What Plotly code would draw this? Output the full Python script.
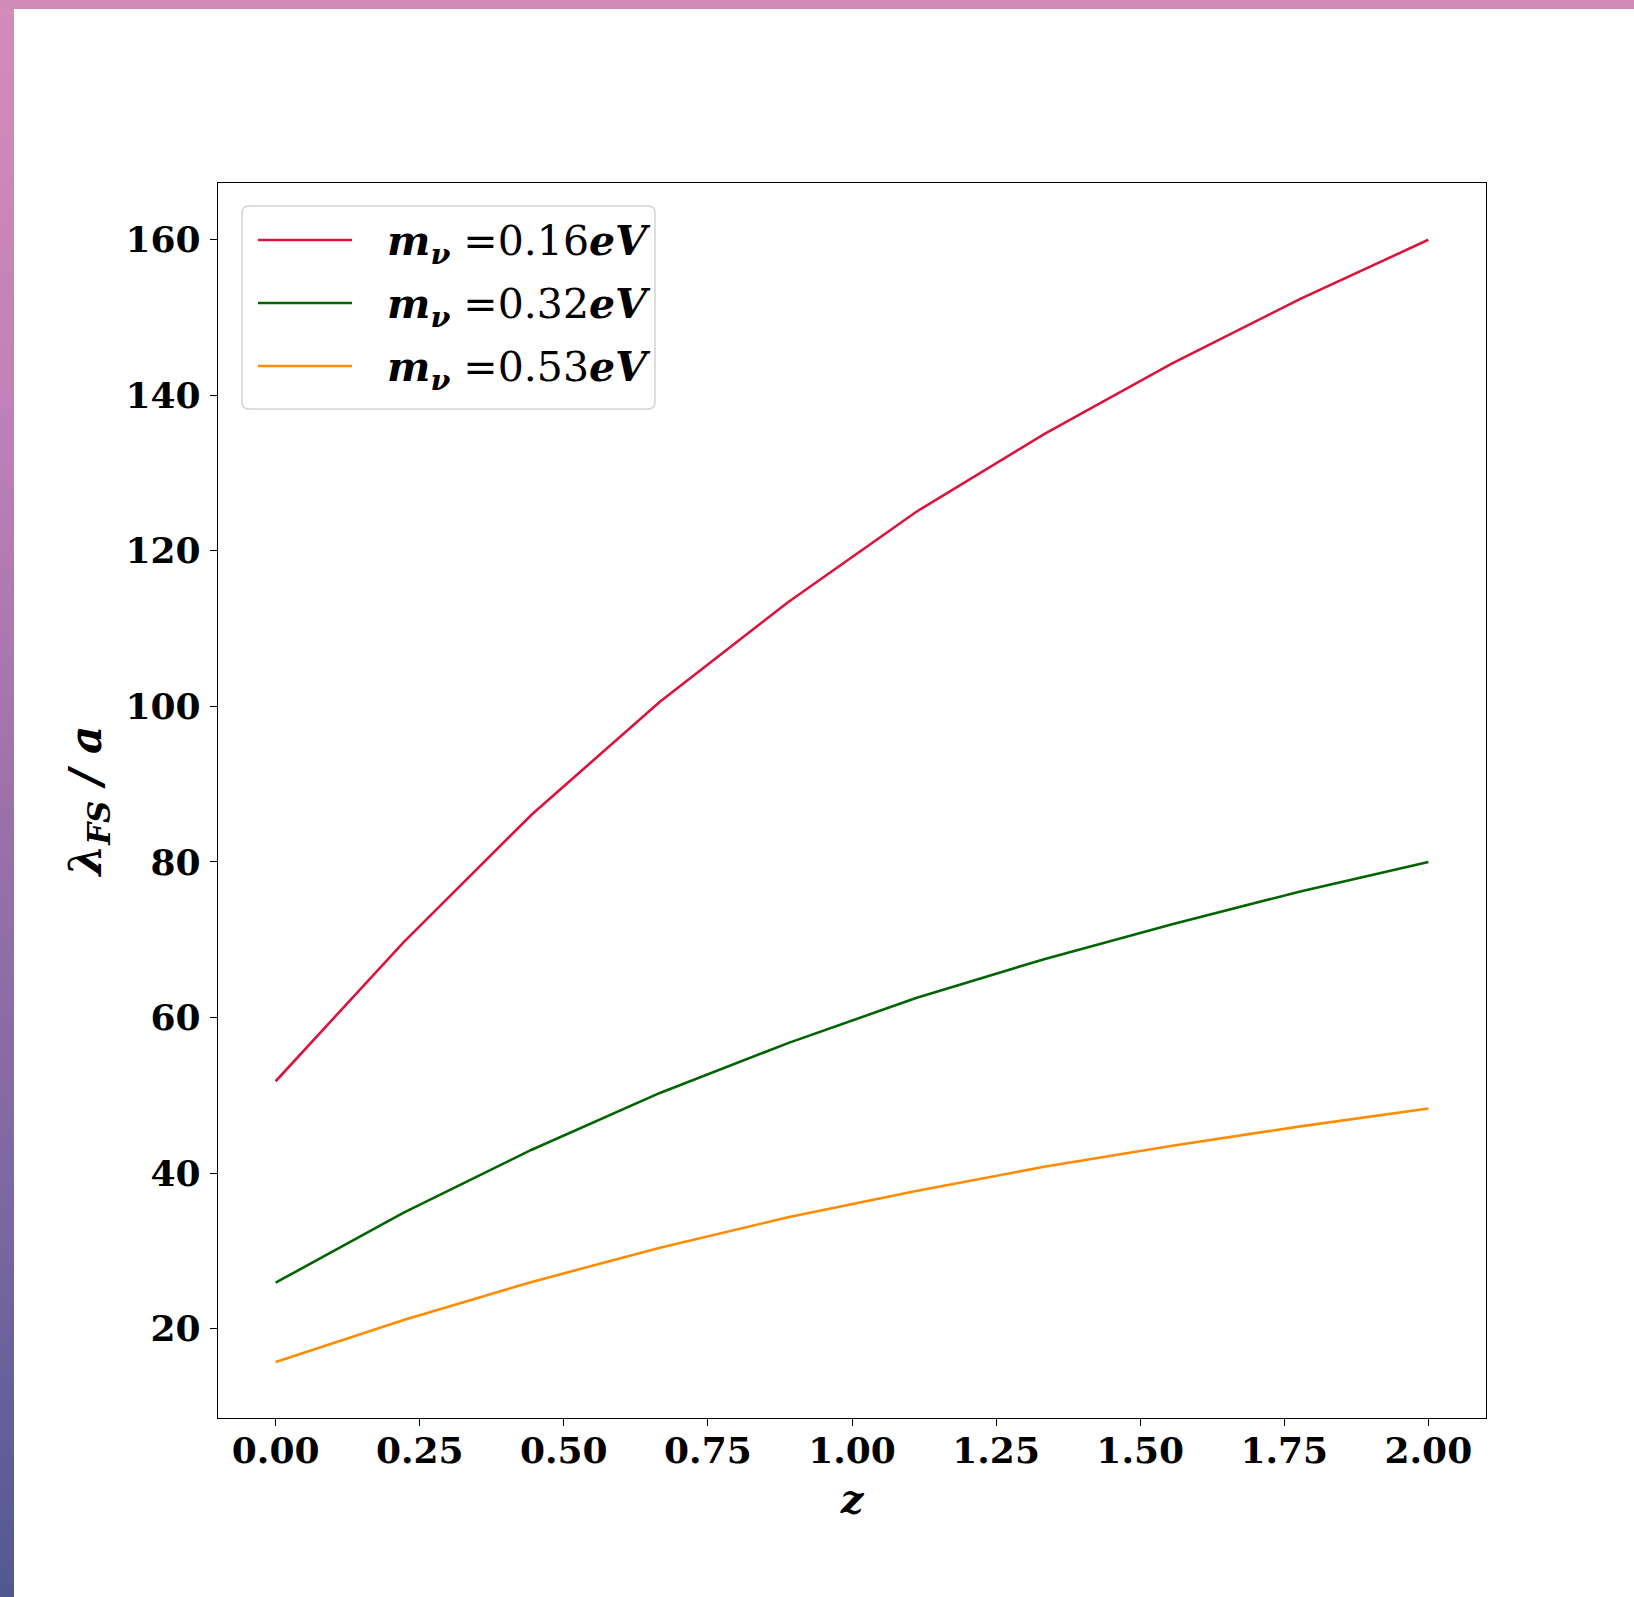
import plotly.graph_objects as go

# Redshift samples
z = [0.0, 0.2222, 0.4444, 0.6667, 0.8889, 1.1111, 1.3333, 1.5556, 1.7778, 2.0]

# Free-streaming length over scale factor for each neutrino mass
lam_016 = [51.8, 69.7, 86.1, 100.6, 113.4, 125.0, 135.0, 144.1, 152.4, 160.0]
lam_032 = [25.9, 34.9, 43.0, 50.3, 56.7, 62.5, 67.5, 72.0, 76.2, 80.0]
lam_053 = [15.7, 21.1, 26.0, 30.4, 34.3, 37.7, 40.8, 43.5, 46.0, 48.3]

series_names = [
    "<b><i>m</i></b><sub><b><i>ν</i></b></sub> =0.16<b><i>eV</i></b>",
    "<b><i>m</i></b><sub><b><i>ν</i></b></sub> =0.32<b><i>eV</i></b>",
    "<b><i>m</i></b><sub><b><i>ν</i></b></sub> =0.53<b><i>eV</i></b>",
]
series_colors = ["#DC143C", "#006400", "#FF8C00"]

x_ticks = [0.0, 0.25, 0.5, 0.75, 1.0, 1.25, 1.5, 1.75, 2.0]
y_ticks = [20, 40, 60, 80, 100, 120, 140, 160]

W, H = 1634, 1597
ML, MR, MT, MB = 218, 148, 183, 179
PW, PH = W - ML - MR, H - MT - MB

FONT = "DejaVu Serif"

fig = go.Figure()
for ys, name, col in zip([lam_016, lam_032, lam_053], series_names, series_colors):
    fig.add_trace(go.Scatter(x=z, y=ys, mode="lines", name=name, showlegend=False,
                             line=dict(color=col, width=2.6)))


def px_x(p):
    return (p - ML) / PW


def px_y(p):
    return (H - MB - p) / PH


def hex_to_rgb(h):
    h = h.lstrip("#")
    return [int(h[i:i + 2], 16) for i in (0, 2, 4)]


# Decorative frame: vertical pink-to-indigo gradient along the left edge, pink band on top
stops = [(0, "#D48CB9"), (400, "#C082B8"), (800, "#9C72A8"), (1200, "#7C68A2"), (1597, "#52598F")]


def grad_color(py):
    for (p0, c0), (p1, c1) in zip(stops[:-1], stops[1:]):
        if p0 <= py <= p1:
            t = (py - p0) / (p1 - p0)
            a, b = hex_to_rgb(c0), hex_to_rgb(c1)
            return "rgb(%d,%d,%d)" % tuple(round(a[i] + (b[i] - a[i]) * t) for i in range(3))
    return stops[-1][1]


shapes = []
step = 6
for py in range(0, H, step):
    shapes.append(dict(type="rect", xref="paper", yref="paper", layer="below",
                       x0=px_x(0), x1=px_x(14), y0=px_y(py + step + 0.5), y1=px_y(py),
                       fillcolor=grad_color(py + step / 2), line=dict(width=0)))
shapes.append(dict(type="rect", xref="paper", yref="paper", layer="below",
                   x0=px_x(0), x1=px_x(W), y0=px_y(9), y1=px_y(0),
                   fillcolor="#D28AB8", line=dict(width=0)))

# Legend panel: rounded box, line samples and labels (pixel layout converted to paper)
bx0, by0, bx1, by1, rad = 242, 206, 655, 409, 7


def rounded_box(x0, y0, x1, y1, r):
    pts = [
        ("M", [(x0 + r, y0)]), ("L", [(x1 - r, y0)]), ("Q", [(x1, y0), (x1, y0 + r)]),
        ("L", [(x1, y1 - r)]), ("Q", [(x1, y1), (x1 - r, y1)]),
        ("L", [(x0 + r, y1)]), ("Q", [(x0, y1), (x0, y1 - r)]),
        ("L", [(x0, y0 + r)]), ("Q", [(x0, y0), (x0 + r, y0)]),
    ]
    out = []
    for cmd, coords in pts:
        out.append(cmd + " ".join("%.6f,%.6f" % (px_x(a), px_y(b)) for a, b in coords))
    return " ".join(out) + " Z"


shapes.append(dict(type="path", xref="paper", yref="paper", layer="above",
                   path=rounded_box(bx0, by0, bx1, by1, rad),
                   fillcolor="rgba(255,255,255,0.85)", line=dict(color="#D3D3D3", width=1.5)))

legend_rows = [240, 303, 366]
annotations = []
for row_y, name, col in zip(legend_rows, series_names, series_colors):
    shapes.append(dict(type="line", xref="paper", yref="paper", layer="above",
                       x0=px_x(258), x1=px_x(352), y0=px_y(row_y), y1=px_y(row_y),
                       line=dict(color=col, width=2.6)))
    annotations.append(dict(xref="paper", yref="paper", x=px_x(385), y=px_y(row_y + 4),
                            xanchor="left", yanchor="middle", showarrow=False, text=name,
                            font=dict(family=FONT, size=41, color="black")))

axis_common = dict(
    showline=True, linecolor="black", linewidth=1.4, mirror=True,
    ticks="outside", ticklen=7, tickwidth=1.4, tickcolor="black",
    showgrid=False, zeroline=False,
    tickfont=dict(family=FONT, size=36, color="black", weight="bold"),
)

fig.update_layout(
    width=W, height=H,
    margin=dict(l=ML, r=MR, t=MT, b=MB),
    paper_bgcolor="white", plot_bgcolor="white",
    shapes=shapes,
    annotations=annotations,
    showlegend=False,
    xaxis=dict(
        range=[-0.1, 2.1], tickvals=x_ticks,
        ticktext=["<b>%.2f</b>" % v for v in x_ticks],
        ticklabelstandoff=-6,
        title=dict(text="<b><i>z</i></b>", standoff=14,
                   font=dict(family=FONT, size=40, color="black")),
        **axis_common,
    ),
    yaxis=dict(
        range=[8.5, 167.3], tickvals=y_ticks,
        ticktext=["<b>%d</b>" % v for v in y_ticks],
        ticklabelstandoff=2,
        title=dict(text="<b><i>λ</i></b><sub><b><i>FS</i></b></sub><b><i> / a</i></b>", standoff=10,
                   font=dict(family=FONT, size=44, color="black")),
        **axis_common,
    ),
)

fig.write_html("out.html")
